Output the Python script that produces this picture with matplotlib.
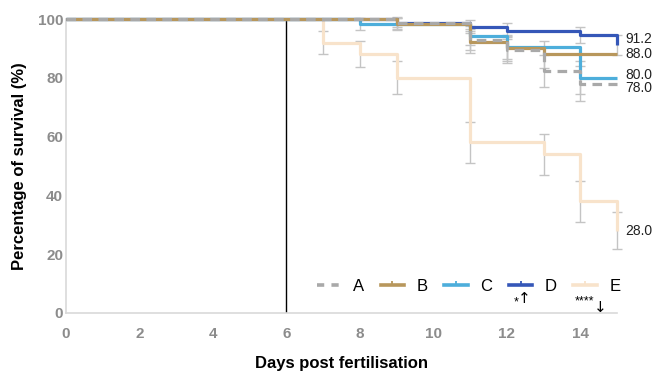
import matplotlib
matplotlib.use("Agg")
import matplotlib.pyplot as plt
from matplotlib.lines import Line2D

plt.rcParams['font.family'] = ['Liberation Sans', 'DejaVu Sans']

labels = ["A", "B", "C", "D", "E"]
colors = ["#a9a9a9", "#b8975c", "#4daedb", "#3557b8", "#f8e3cb"]

times_A = [0, 9, 11, 12, 13, 14, 15]
vals_A = [100, 98.7, 93.0, 89.5, 82.4, 78.0, 78.0]
err_A = [2.0, 3.6, 4.3, 5.4, 5.9]

times_B = [0, 9, 11, 12, 13, 15]
vals_B = [100, 98.3, 92.3, 90.0, 88.0, 88.0]
err_B = [2.0, 3.7, 4.2, 4.6]

times_C = [0, 8, 11, 12, 14, 15]
vals_C = [100, 98.2, 94.3, 90.5, 80.0, 80.0]
err_C = [2.0, 3.3, 4.1, 5.6]

times_D = [0, 9, 11, 12, 14, 15]
vals_D = [100, 98.8, 97.4, 96.0, 94.6, 91.2]
err_D = [1.6, 2.2, 2.7, 2.6, 3.5]

times_E = [0, 7, 8, 9, 11, 13, 14, 15]
vals_E = [100, 92, 88, 80, 58, 54, 38, 28]
err_E = [3.8, 4.4, 5.6, 7.0, 7.0, 7.0, 6.3]

end_labels = ["78.0", "88.0", "80.0", "91.2", "28.0"]
end_label_y = [76.4, 88.0, 81.0, 93.2, 28.0]

series = [
    (times_A, vals_A, err_A),
    (times_B, vals_B, err_B),
    (times_C, vals_C, err_C),
    (times_D, vals_D, err_D),
    (times_E, vals_E, err_E),
]

fig = plt.figure(figsize=(6.55, 3.73), dpi=100)
ax = fig.add_axes([0.1008, 0.161, 0.8412, 0.788])

ax.axvline(6, color="black", lw=1.0, zorder=1)

order = [4, 2, 3, 1, 0]
for z, i in enumerate(order):
    t, v, e = series[i]
    ls = (0, (3, 2)) if i == 0 else "-"
    n = len(e)
    ax.errorbar(t[1:1 + n], v[1:1 + n], yerr=e, fmt="none", ecolor="#c4c4c4",
                elinewidth=1.0, capsize=3.5, capthick=1.0, zorder=2, clip_on=False)
    ax.step(t, v, where="post", color=colors[i], lw=2.3,
            linestyle=ls, zorder=3 + z, clip_on=False,
            solid_capstyle="butt")

for txt, yv in zip(end_labels, end_label_y):
    ax.text(15.22, yv, txt, fontsize=10, va="center", ha="left", color="#222222")

ax.set_xlim(0, 15)
ax.set_ylim(0, 100)
ax.set_xticks(range(0, 15, 2))
ax.set_yticks(range(0, 101, 20))
for s in ["top", "right"]:
    ax.spines[s].set_visible(False)
for s in ["left", "bottom"]:
    ax.spines[s].set_color("#d9d9d9")
    ax.spines[s].set_linewidth(1.2)
ax.tick_params(axis="both", length=0, labelsize=11, labelcolor="#8c8c8c")
for lbl in ax.get_xticklabels() + ax.get_yticklabels():
    lbl.set_fontweight("bold")
ax.tick_params(axis="x", pad=10)
ax.tick_params(axis="y", pad=2)

ax.set_xlabel("Days post fertilisation", fontsize=12, fontweight="bold", labelpad=11)
ax.set_ylabel("Percentage of survival (%)", fontsize=12, fontweight="bold", labelpad=8)

handles = []
for i in range(5):
    if i == 0:
        handles.append(Line2D([0], [0], color=colors[i], lw=2.6, linestyle=(0, (2, 2))))
    else:
        handles.append(Line2D([0], [0], color=colors[i], lw=2.6, marker=2,
                              markersize=3, markeredgewidth=1.3))
leg = ax.legend(handles, labels, loc="center right", ncol=5, frameon=False,
                fontsize=12, handlelength=1.4, columnspacing=1.0, handletextpad=0.75,
                borderpad=0, borderaxespad=0, bbox_to_anchor=(1.006, 0.089))

ax.text(12.26, 3.6, "*", fontsize=9, ha="center", va="center")
ax.text(12.47, 4.8, "↑", fontsize=11, ha="center", va="center",
        family=["DejaVu Sans"])
ax.text(14.12, 3.8, "****", fontsize=9, ha="center", va="center")
ax.text(14.55, 2.0, "↓", fontsize=11, ha="center", va="center",
        family=["DejaVu Sans"])

fig.savefig("out.png", dpi=100)
